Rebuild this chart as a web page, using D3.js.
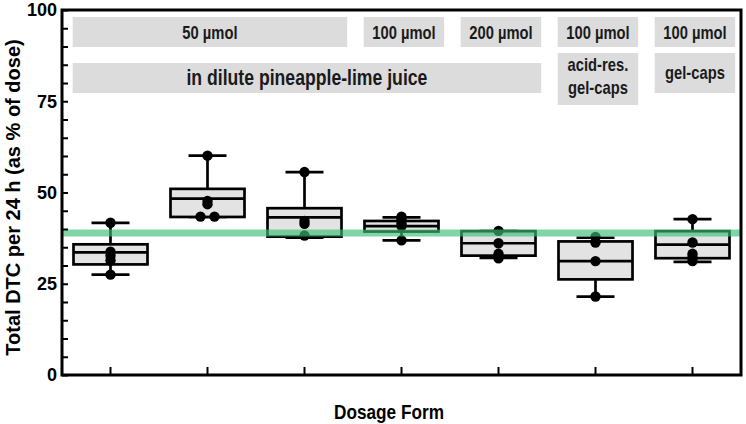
<!DOCTYPE html>
<html><head><meta charset="utf-8">
<script src="https://cdn.jsdelivr.net/npm/d3@7"></script>
<style>body{margin:0;background:#fff}svg{display:block}text{font-family:"Liberation Sans",Arial,sans-serif;font-weight:bold}</style>
</head><body><svg id="c" width="746" height="424"></svg>
<script>
// ---- data ----
const categories = ["juice 50 A","juice 50 B","juice 50 C","juice 100","juice 200","acid-res gel-caps 100","gel-caps 100"];
const whiskerLow  = [27.5, 43.3, 37.6, 36.9, 32.1, 21.5, 31.0];
const q1          = [30.3, 43.3, 37.9, 39.3, 32.7, 26.2, 32.0];
const medians     = [33.6, 48.3, 43.2, 40.8, 36.1, 31.2, 35.7];
const q3          = [35.8, 51.0, 45.7, 42.2, 39.4, 36.6, 39.4];
const whiskerHigh = [41.7, 60.1, 55.6, 43.2, 39.4, 37.6, 42.7];
const points = [
  [41.7, 33.8, 32.7, 31.4, 27.5],
  [60.1, 47.7, 46.8, 43.4, 43.4],
  [55.6, 42.2, 41.4, 38.2],
  [43.4, 42.7, 41.5, 40.8, 36.9],
  [39.5, 36.1, 33.2, 32.0],
  [37.8, 36.3, 31.2, 21.5],
  [42.7, 36.3, 33.2, 32.2, 31.2]
];
const referenceValue = 38.9;
const yTicks = [0, 25, 50, 75, 100];
const doseLabels = [
  {text:"50 µmol", from:0, to:2},
  {text:"100 µmol", from:3, to:3},
  {text:"200 µmol", from:4, to:4},
  {text:"100 µmol", from:5, to:5},
  {text:"100 µmol", from:6, to:6}
];
const formLabels = [
  {lines:["in dilute pineapple-lime juice"], from:0, to:4},
  {lines:["acid-res.","gel-caps"], from:5, to:5},
  {lines:["gel-caps"], from:6, to:6}
];
const yTitle = "Total DTC per 24 h (as % of dose)";
const xTitle = "Dosage Form";

// ---- layout ----
const L = 62, R = 741, T = 10, B = 375;
const NARROW = 0.82;
const svg = d3.select("#c");
const x = d3.scaleBand().domain(categories).range([L, R]).padding(0);
const step = x.step();
const cx = i => x(categories[i]) + x.bandwidth()/2;
const y = d3.scaleLinear().domain([0, 100]).range([B, T]);

function narrowText(g, px, py, size, str, fill) {
  return g.append("text").attr("transform", `translate(${px},${py}) scale(${NARROW},1)`)
    .attr("text-anchor","middle").attr("font-size", size).attr("fill", fill || "#1a1a1a").text(str);
}

// annotations
const g1 = svg.append("g");
doseLabels.forEach(d => {
  const x0 = cx(d.from) - 0.39*step, x1 = cx(d.to) + 0.44*step;
  g1.append("rect").attr("x", x0).attr("y", 17).attr("width", x1-x0).attr("height", 30).attr("fill", "#dcdcdc");
  narrowText(g1, (x0+x1)/2, 38.5, 18, d.text);
});
formLabels.forEach(d => {
  const x0 = cx(d.from) - 0.39*step, x1 = cx(d.to) + 0.44*step;
  const n = d.lines.length;
  const big = d.to - d.from > 0;
  let y0, h;
  if (big) { y0 = 63; h = 30; } else if (n === 2) { y0 = 53; h = 52; } else { y0 = 53; h = 40; }
  g1.append("rect").attr("x", x0).attr("y", y0).attr("width", x1-x0).attr("height", h).attr("fill", "#dcdcdc");
  d.lines.forEach((t, k) => {
    const by = big ? 85 : (n === 2 ? 71 + k*23 : 79);
    narrowText(g1, (x0+x1)/2, by, big ? 21.5 : 18, t);
  });
});

// boxes
const bw = 37, cw = 19;
const gb = svg.append("g").attr("stroke","#000").attr("stroke-width",2.7);
categories.forEach((c, i) => {
  const X = cx(i);
  gb.append("line").attr("x1",X).attr("x2",X).attr("y1",y(q3[i])).attr("y2",y(whiskerHigh[i]));
  gb.append("line").attr("x1",X).attr("x2",X).attr("y1",y(q1[i])).attr("y2",y(whiskerLow[i]));
  gb.append("line").attr("x1",X-cw).attr("x2",X+cw).attr("y1",y(whiskerHigh[i])).attr("y2",y(whiskerHigh[i]));
  gb.append("line").attr("x1",X-cw).attr("x2",X+cw).attr("y1",y(whiskerLow[i])).attr("y2",y(whiskerLow[i]));
  gb.append("rect").attr("x",X-bw).attr("width",2*bw).attr("y",y(q3[i])).attr("height",y(q1[i])-y(q3[i]))
    .attr("fill","#e3e3e3");
  gb.append("line").attr("x1",X-bw).attr("x2",X+bw).attr("y1",y(medians[i])).attr("y2",y(medians[i]));
});
// points (identical values spread sideways)
const gp = svg.append("g");
points.forEach((arr, i) => {
  const counts = d3.rollup(arr, v => v.length, v => v);
  const seen = new Map();
  arr.forEach(v => {
    const n = counts.get(v), k = seen.get(v) || 0; seen.set(v, k+1);
    const off = n > 1 ? (k - (n-1)/2) * 14 : 0;
    gp.append("circle").attr("cx", cx(i)+off).attr("cy", y(v)).attr("r", 5.2).attr("fill","#000");
  });
});

// reference line
svg.append("line").attr("x1",L).attr("x2",R).attr("y1",y(referenceValue)).attr("y2",y(referenceValue))
  .attr("stroke","rgb(60,190,120)").attr("stroke-opacity",0.65).attr("stroke-width",7);

// axes
const ya = svg.append("g").attr("transform",`translate(${L},0)`)
  .call(d3.axisRight(y).tickValues(d3.range(0,101,5)).tickSize(6).tickFormat(""));
ya.select(".domain").remove();
ya.selectAll("line").attr("stroke","#000").attr("stroke-width",2);
svg.append("g").selectAll("text").data(yTicks).join("text")
  .attr("x", 57).attr("y", d => y(d)).attr("dy","0.35em").attr("text-anchor","end")
  .attr("font-size",18).attr("fill","#000").text(d => d);
const xa = svg.append("g").attr("transform",`translate(0,${B})`)
  .call(d3.axisTop(x).tickSize(8).tickFormat(""));
xa.select(".domain").remove();
xa.selectAll("line").attr("stroke","#000").attr("stroke-width",2);

svg.append("rect").attr("x",L).attr("y",T).attr("width",R-L).attr("height",B-T)
  .attr("fill","none").attr("stroke","#000").attr("stroke-width",3);

svg.append("text").attr("transform",`translate(20,${(T+B)/2+5}) rotate(-90)`).attr("text-anchor","middle")
  .attr("font-size",20).attr("fill","#000").text(yTitle);
narrowText(svg, 389, 419, 21, xTitle, "#000");
</script></body></html>
